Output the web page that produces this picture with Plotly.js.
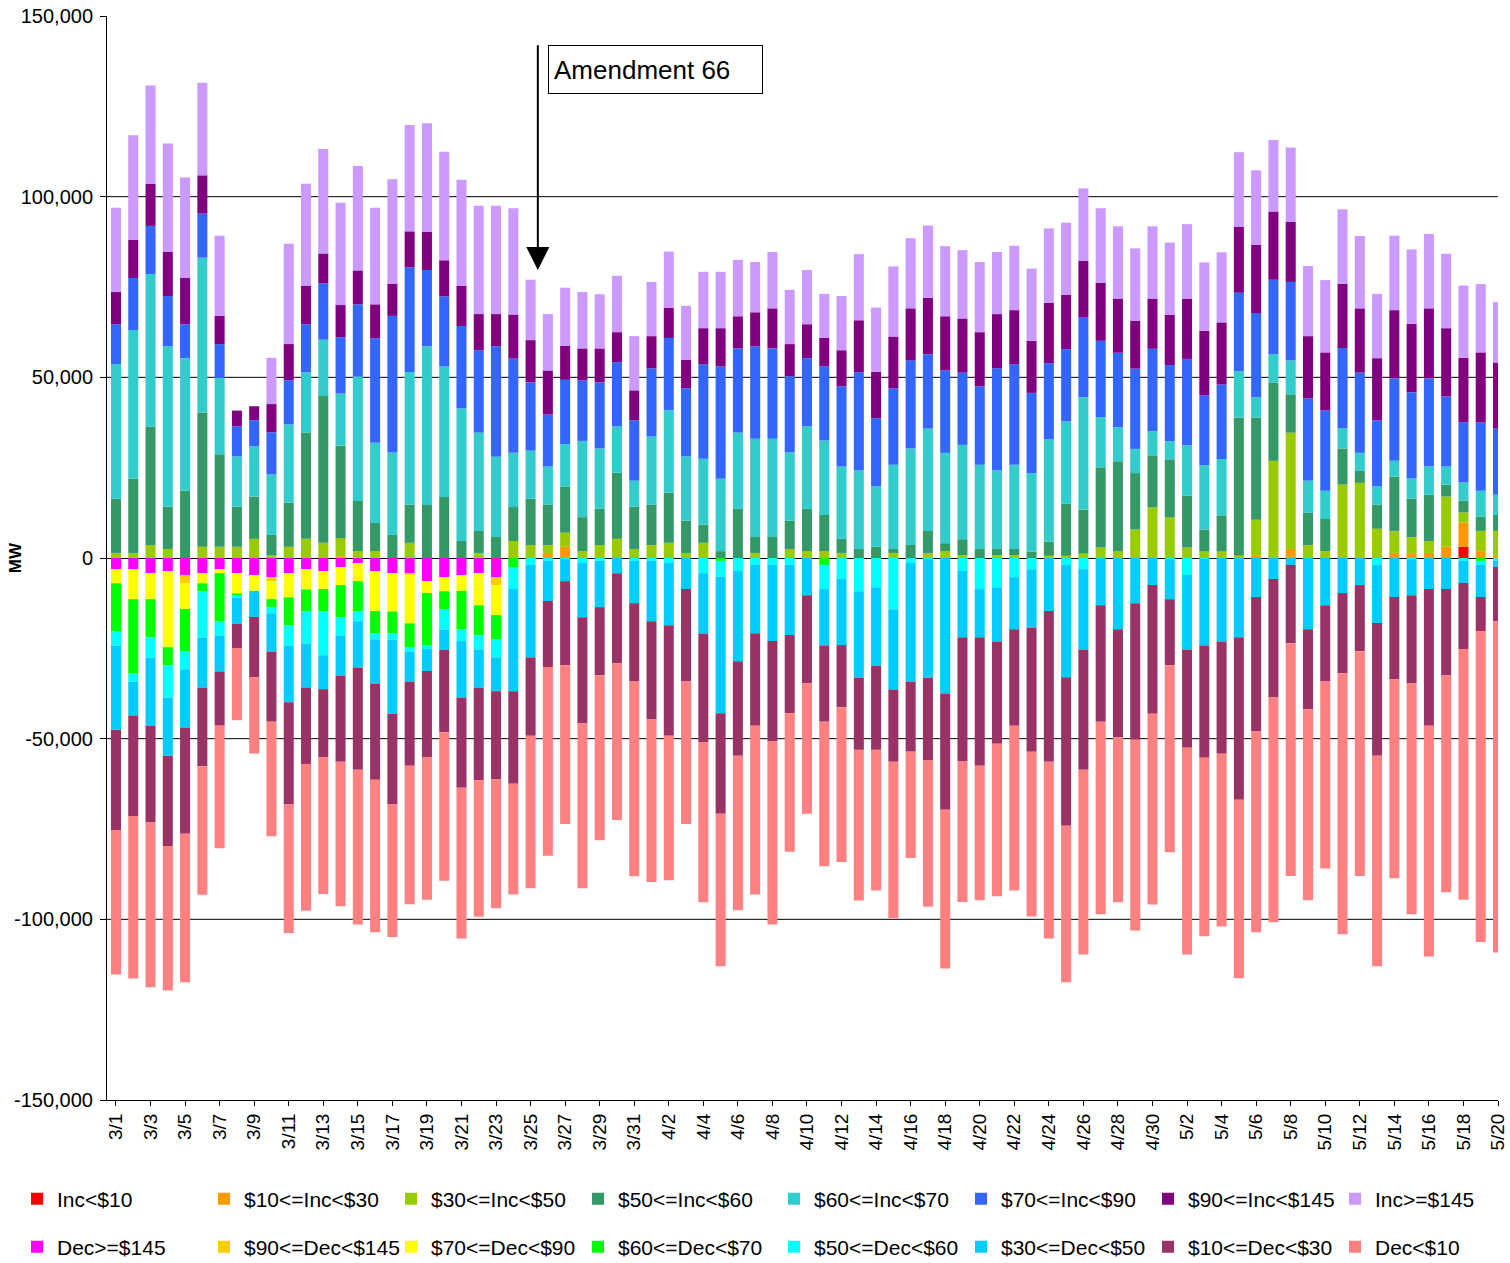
<!DOCTYPE html>
<html>
<head>
<meta charset="utf-8">
<script src="https://cdn.plot.ly/plotly-3.0.1.min.js"></script>
<style>html,body{margin:0;padding:0;background:#fff;}#chart{width:1510px;height:1263px;}</style>
</head>
<body>
<div id="chart"></div>
<script>
// ---------- categories ----------
const dates = [
 "3/1","3/2","3/3","3/4","3/5","3/6","3/7","3/8","3/9","3/10",
 "3/11","3/12","3/13","3/14","3/15","3/16","3/17","3/18","3/19","3/20",
 "3/21","3/22","3/23","3/24","3/25","3/26","3/27","3/28","3/29","3/30",
 "3/31","4/1","4/2","4/3","4/4","4/5","4/6","4/7","4/8","4/9",
 "4/10","4/11","4/12","4/13","4/14","4/15","4/16","4/17","4/18","4/19",
 "4/20","4/21","4/22","4/23","4/24","4/25","4/26","4/27","4/28","4/29",
 "4/30","5/1","5/2","5/3","5/4","5/5","5/6","5/7","5/8","5/9",
 "5/10","5/11","5/12","5/13","5/14","5/15","5/16","5/17","5/18","5/19",
 "5/20"];
const xTickLabels = dates.filter((d, i) => i % 2 === 0);

// ---------- series (MW) ----------
const incLt10 = [
 0,0,0,0,0,0,0,0,0,0,
 0,0,0,0,0,0,0,0,0,0,
 0,0,0,0,0,0,0,0,0,0,
 0,0,0,0,0,0,0,0,0,0,
 0,0,0,0,0,0,0,0,0,0,
 0,0,0,0,0,0,0,0,0,0,
 0,0,0,0,0,0,0,0,0,0,
 0,0,0,0,0,0,0,0,3100,0,
 0];
const inc10to30 = [
 0,0,0,0,0,0,0,0,0,0,
 0,0,0,500,0,0,0,0,0,0,
 0,0,0,0,0,1400,3100,0,0,0,
 0,0,0,0,0,0,0,0,0,0,
 0,0,0,0,0,0,0,0,0,0,
 0,0,0,0,0,0,0,0,0,0,
 0,0,0,0,0,0,600,0,2500,0,
 0,0,0,0,1400,1400,1400,3100,6700,1900,
 800];
const inc30to50 = [
 1400,1400,3600,2500,0,3100,3100,3100,5300,800,
 3100,5300,4200,5000,1900,1900,0,4200,0,0,
 0,1400,0,4700,3600,2200,3900,1900,3600,5300,
 2500,3600,4200,1400,4200,0,0,1400,0,2500,
 1900,1900,1400,0,0,1400,0,1400,1900,800,
 0,800,800,0,600,600,1200,2900,1800,7900,
 14000,11200,2900,1800,1800,600,10000,26900,32200,3600,
 1900,20300,20800,8100,6100,4400,3300,13900,2800,5600,
 6700];
const inc50to60 = [
 15000,20600,32800,11700,18600,37200,25600,11100,11700,5600,
 12200,29400,40600,25600,13900,7800,6400,10600,14700,16900,
 4700,6100,5800,9400,12800,11100,12800,9400,10000,18300,
 11700,11100,13900,8900,5000,1900,13600,4400,5800,7800,
 11700,10000,3900,2500,3100,1100,3600,6100,2200,4400,
 2500,1700,1700,1800,3900,14400,12200,22200,25000,15600,
 14400,16100,14400,6100,10000,38300,28300,21700,10600,8900,
 8900,10000,3300,6700,15000,10600,12800,3300,3300,3900,
 4400];
const inc60to70 = [
 37200,41100,42200,44400,36700,42800,21100,13900,13900,16700,
 21700,16700,15600,14400,34400,22200,22800,36700,43900,36100,
 36700,27200,22200,15000,13300,10600,11700,21100,16700,12800,
 7200,18900,22800,17800,18300,20000,21100,27200,27200,18900,
 22800,20600,20000,21700,16700,23300,26700,28300,25000,26100,
 23300,21700,23300,21700,28300,22800,31100,13900,9400,6700,
 6700,5000,13900,17800,15600,12800,5600,7800,9400,8900,
 7800,5600,5000,5000,4400,5600,7800,5000,5000,7200,
 5600];
const inc70to90 = [
 11100,14400,13300,13900,9400,12200,9400,8300,7200,11700,
 12200,13300,15600,15600,20000,28900,37800,28900,21100,19400,
 22800,22800,30600,26100,18900,14400,17800,16700,18300,17800,
 16700,18900,20000,18900,26100,31100,23300,25600,25000,21100,
 18900,20600,22200,27200,18900,21100,24400,20600,22800,20000,
 21700,28300,27800,22200,21100,20000,22200,21100,20600,22200,
 22800,21100,23900,19400,20600,21700,23300,20600,21700,22800,
 22200,22200,22200,18300,22800,23900,24400,19400,16700,18900,
 18300];
const inc90to145 = [
 8900,10600,11700,12200,12800,10600,7800,4400,3900,7800,
 10000,10600,8300,8900,9400,9400,8900,10000,10600,10000,
 11100,10000,8900,12200,11700,12200,9400,8900,9400,8300,
 8300,8900,8300,7800,10000,10600,8900,9400,11100,8900,
 9400,7800,10000,14400,12800,14400,14400,15600,15000,15000,
 15000,15000,15000,14400,16700,15000,15600,16100,15000,13300,
 13900,13900,16700,17800,17200,18300,18900,18900,16700,17200,
 16100,17800,17800,17200,18900,18900,19400,18900,17800,19400,
 18300];
const incGe145 = [
 23300,28900,27200,30000,27800,25600,22200,0,0,12800,
 27800,28300,28900,28300,28900,26700,28900,29400,30000,30000,
 29400,30000,30000,29400,16700,15600,16100,15600,15000,15600,
 15000,15000,15600,15000,15600,15600,15600,13900,15600,15000,
 15000,12200,15000,18300,17800,19400,19400,20000,19400,18900,
 19400,17200,17800,20000,20600,20000,20000,20600,20000,20000,
 20000,20000,20600,18900,19400,20600,20600,19800,20500,19400,
 20000,20600,20000,17800,20600,20600,20600,20600,20000,18900,
 16700];

const decGe145 = [
 -3100,-3100,-4200,-3600,-4700,-4200,-3100,-4200,-4700,-5300,
 -4200,-3100,-3600,-2500,-1400,-3600,-4200,-4200,-6400,-5300,
 -4700,-4200,-5300,0,0,0,0,0,0,0,
 0,0,0,0,0,0,0,0,0,0,
 0,0,0,0,0,0,0,0,0,0,
 0,0,0,0,0,0,0,0,0,0,
 0,0,0,0,0,0,0,0,0,0,
 0,0,0,0,0,0,0,0,0,0,
 0];
const dec90to145 = [
 0,0,0,0,-2200,0,0,0,0,-1100,
 0,0,0,0,0,0,0,-600,0,0,
 0,0,-2200,0,0,0,0,0,0,0,
 0,0,0,0,0,0,0,0,0,0,
 0,0,0,0,0,0,0,0,0,0,
 0,0,0,0,0,0,0,0,0,0,
 0,0,0,0,0,0,0,0,0,0,
 0,0,0,0,0,0,0,0,0,0,
 0];
const dec70to90 = [
 -3900,-8300,-7200,-21100,-7200,-2800,-1100,-5600,-4400,-5000,
 -6700,-5600,-5000,-5000,-5000,-11100,-10600,-13300,-3300,-3900,
 -4400,-8900,-8300,0,0,0,0,0,0,0,
 0,0,0,0,0,0,0,0,0,0,
 0,0,0,0,0,0,0,0,0,0,
 0,0,0,0,0,0,0,0,0,0,
 0,0,0,0,0,0,0,0,0,0,
 0,0,0,0,0,0,0,0,0,0,
 0];
const dec60to70 = [
 -13300,-20600,-10600,-5000,-11700,-2200,-13300,-600,0,-2200,
 -7800,-6100,-6100,-8900,-8300,-6100,-6100,-6700,-14400,-5000,
 -10600,-8300,-6700,-2500,0,0,0,0,0,0,
 0,0,0,0,0,-800,0,0,0,0,
 0,-1900,0,0,0,0,0,0,0,0,
 0,0,0,0,0,0,0,0,0,0,
 0,0,0,0,0,0,0,0,0,0,
 0,0,0,0,0,0,0,0,0,-800,
 0];
const dec50to60 = [
 -3900,-2200,-5600,-8900,-5000,-12800,-3900,-600,0,-1700,
 -5600,-8900,-12200,-5000,-2800,-1700,-1700,-1100,-1100,-5600,
 -3300,-3900,-5000,-6100,-1900,-800,-300,-1400,-800,0,
 -800,-800,-1400,0,-4200,-4400,-3600,-1900,-1900,-1900,
 0,-6700,-5800,-9200,-8100,-14200,-1400,-300,0,-3600,
 -8600,-8100,-5300,-3100,0,-1900,-3100,0,0,0,
 0,-300,-4700,-300,0,0,0,0,0,0,
 0,0,0,-1900,0,-300,0,0,-800,-1100,
 -800];
const dec30to50 = [
 -23300,-9400,-18900,-16100,-16100,-13900,-10000,-7200,-7200,-10600,
 -15600,-12200,-9400,-11100,-12800,-12200,-20600,-8300,-6100,-5600,
 -15600,-10600,-9400,-28300,-25600,-11100,-6100,-15000,-12800,-4200,
 -11700,-16700,-17200,-8600,-16700,-37800,-25000,-18900,-21100,-19400,
 -10300,-15600,-18300,-23900,-21700,-22200,-32800,-32800,-37500,-18300,
 -13300,-15000,-14400,-16100,-14700,-31100,-22200,-13100,-19700,-12500,
 -7500,-11100,-20600,-23900,-23100,-21900,-10800,-5800,-1900,-19700,
 -13100,-9700,-7500,-16100,-10800,-10000,-8600,-8600,-6100,-8900,
 -1700];
const dec10to30 = [
 -27800,-27800,-26700,-25000,-29400,-21700,-15000,-6700,-16700,-19400,
 -28300,-21100,-18900,-23900,-28300,-26700,-25000,-23300,-23900,-22800,
 -25000,-25600,-24400,-25600,-21700,-18300,-23300,-29400,-18900,-25000,
 -21700,-27200,-30600,-25600,-30000,-27800,-26100,-25600,-27800,-21700,
 -24400,-21100,-17200,-20000,-23300,-20000,-19400,-22800,-32200,-34400,
 -35600,-28300,-26700,-34400,-41700,-41100,-33300,-32200,-30000,-37800,
 -35600,-18300,-27200,-31100,-31100,-45000,-37200,-32800,-21700,-22200,
 -21100,-22200,-18300,-36700,-22800,-24400,-37800,-23900,-18300,-9400,
 -15000];
const decLt10 = [
 -40000,-45000,-45600,-40000,-41100,-35600,-33900,-20000,-21100,-31700,
 -35600,-40600,-37800,-40000,-42800,-42200,-36700,-38300,-39400,-41100,
 -41700,-37800,-35600,-30600,-42200,-52200,-43900,-45600,-45600,-43300,
 -53900,-45000,-40000,-39400,-44400,-42200,-42800,-46700,-50600,-38300,
 -36100,-40000,-42800,-41700,-38900,-43300,-29400,-40600,-43900,-38900,
 -37200,-42200,-45600,-45600,-48900,-43300,-51100,-53300,-45600,-52800,
 -52800,-51700,-57200,-49400,-47800,-49400,-55600,-62200,-64400,-52800,
 -51700,-72200,-62200,-58300,-55000,-63900,-63900,-60000,-69400,-86100,
 -91700];

// ---------- labels ----------
const seriesNames = [
 "Inc<$10","$10<=Inc<$30","$30<=Inc<$50","$50<=Inc<$60",
 "$60<=Inc<$70","$70<=Inc<$90","$90<=Inc<$145","Inc>=$145",
 "Dec>=$145","$90<=Dec<$145","$70<=Dec<$90","$60<=Dec<$70",
 "$50<=Dec<$60","$30<=Dec<$50","$10<=Dec<$30","Dec<$10"];
const seriesValues = [
 incLt10, inc10to30, inc30to50, inc50to60, inc60to70, inc70to90, inc90to145, incGe145,
 decGe145, dec90to145, dec70to90, dec60to70, dec50to60, dec30to50, dec10to30, decLt10];
const yTickVals = [-150000,-100000,-50000,0,50000,100000,150000];
const yTickText = ["-150,000","-100,000","-50,000","0","50,000","100,000","150,000"];
const gridValues = [-100000,-50000,50000,100000];
const annotationText = "Amendment 66";
const yTitle = "MW";

// ---------- styles ----------
const colors = [
 "#FF0000","#FF9900","#99CC00","#339966","#33CCCC","#3366FF","#800080","#CC99FF",
 "#FF00FF","#FFCC00","#FFFF00","#00FF00","#00FFFF","#00CCFF","#993366","#FF8080"];

const FONT = "Liberation Sans, Arial, Helvetica, sans-serif";
// legend blocks: 4 entries each (two per row)
const legendIds = ["legend", "legend2", "legend3", "legend4"];

const traces = seriesNames.map((name, i) => ({
  type: "bar",
  name: name,
  x: dates,
  y: seriesValues[i],
  marker: {color: colors[i], line: {width: 0}},
  legend: legendIds[Math.floor(i / 4)],
  hoverinfo: "x+y+name"
}));

const legendCommon = {
  orientation: "h",
  xref: "container", yref: "container",
  xanchor: "left", yanchor: "middle",
  entrywidth: 142, entrywidthmode: "pixels",
  traceorder: "normal",
  font: {family: FONT, size: 21, color: "black"},
  bgcolor: "rgba(0,0,0,0)", borderwidth: 0,
  itemclick: false, itemdoubleclick: false
};
const legLeftA = 17 / 1510, legLeftB = 774 / 1510;
const legRow1 = (1263 - 1199) / 1263, legRow2 = (1263 - 1247) / 1263;

const layout = {
  width: 1510, height: 1263,
  margin: {l: 107, r: 12, t: 16, b: 163},
  paper_bgcolor: "white", plot_bgcolor: "white",
  font: {family: FONT, color: "black"},
  barmode: "relative",
  bargap: 0.42,
  showlegend: true,
  legend:  Object.assign({}, legendCommon, {x: legLeftA, y: legRow1}),
  legend2: Object.assign({}, legendCommon, {x: legLeftB, y: legRow1}),
  legend3: Object.assign({}, legendCommon, {x: legLeftA, y: legRow2}),
  legend4: Object.assign({}, legendCommon, {x: legLeftB, y: legRow2}),
  xaxis: {
    type: "category",
    range: [-0.52, 80.0],
    tickmode: "array",
    tickvals: xTickLabels,
    ticktext: xTickLabels,
    tickangle: -90,
    tickfont: {family: FONT, size: 19, color: "black"},
    showline: true, linecolor: "black", linewidth: 1,
    ticks: "outside", ticklen: 5, tickcolor: "black",
    showgrid: false, zeroline: false,
    automargin: false
  },
  yaxis: {
    range: [-150000, 150000],
    tickmode: "array",
    tickvals: yTickVals,
    ticktext: yTickText,
    tickfont: {family: FONT, size: 20, color: "black"},
    ticklabelstandoff: 3,
    showline: true, linecolor: "black", linewidth: 1,
    ticks: "outside", ticklen: 6, tickcolor: "black",
    showgrid: false,
    zeroline: true, zerolinecolor: "black", zerolinewidth: 1,
    automargin: false
  },
  shapes: gridValues.map(v => ({
    type: "line", xref: "paper", yref: "y", layer: "below",
    x0: 0, x1: 1, y0: v, y1: v,
    line: {color: "black", width: 1}
  })),
  annotations: [
    {
      text: "<b>" + yTitle + "</b>",
      xref: "paper", yref: "paper",
      x: -0.066, y: 0.5,
      xanchor: "center", yanchor: "middle",
      textangle: -90, showarrow: false,
      font: {family: FONT, size: 17, color: "black"}
    },
    {
      text: "",
      xref: "x", yref: "y", axref: "x", ayref: "y",
      x: 24.42, y: 79700, ax: 24.42, ay: 142300,
      showarrow: true, arrowhead: 2, arrowwidth: 2, arrowsize: 2.3,
      arrowcolor: "black", standoff: 0, startstandoff: 0
    },
    {
      text: annotationText,
      xref: "x", yref: "y",
      x: 31.22, y: 135100,
      xanchor: "center", yanchor: "middle",
      showarrow: false,
      width: 203, height: 37, align: "left", valign: "middle",
      bordercolor: "black", borderwidth: 1, borderpad: 5,
      bgcolor: "white",
      font: {family: FONT, size: 26, color: "black"}
    }
  ]
};

Plotly.newPlot("chart", traces, layout, {displayModeBar: false, staticPlot: true});
</script>
</body>
</html>
